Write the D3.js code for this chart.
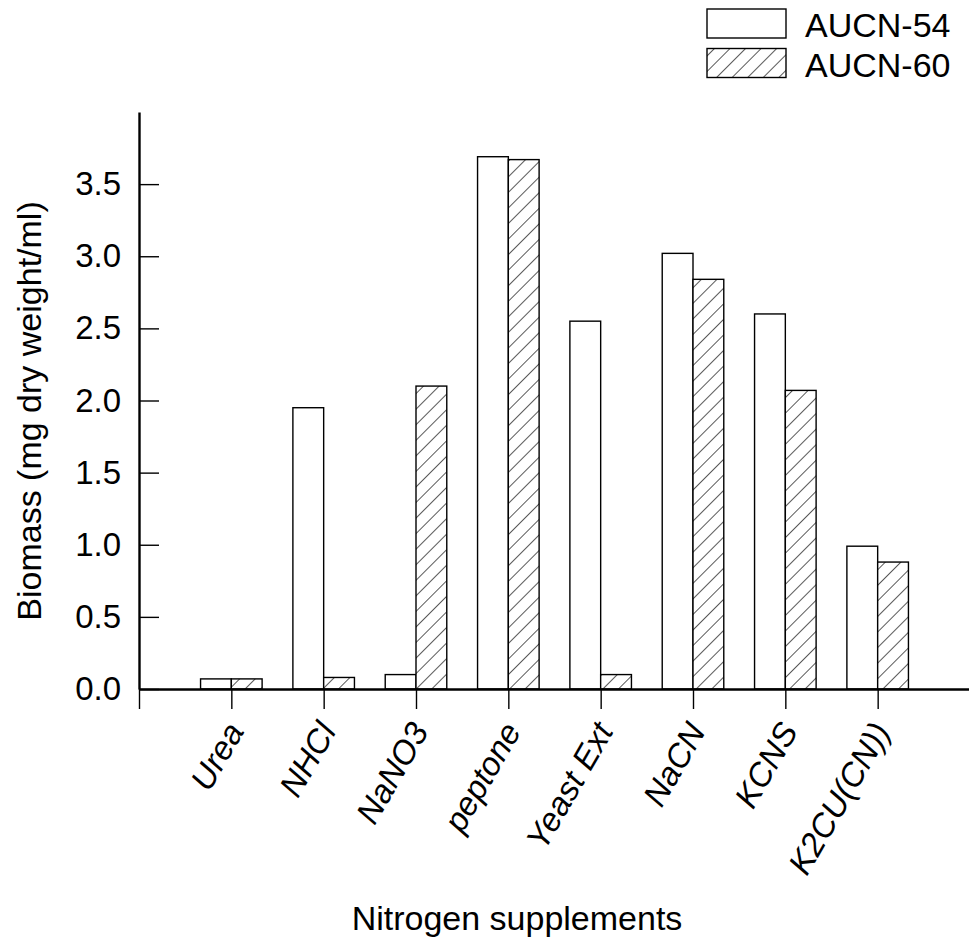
<!DOCTYPE html>
<html>
<head>
<meta charset="utf-8">
<script src="https://cdn.jsdelivr.net/npm/d3@7"></script>
<style>
  html, body { margin: 0; padding: 0; background: #fff; }
  svg { display: block; font-family: "Liberation Sans", Arial, sans-serif; }
</style>
</head>
<body>
<svg id="chart" width="969" height="942"></svg>
<script>
// ---- data ----
const categories = ["Urea", "NHCl", "NaNO3", "peptone", "Yeast Ext", "NaCN", "KCNS", "K2CU(CN))"];
const aucn54 = [0.07, 1.95, 0.10, 3.69, 2.55, 3.02, 2.60, 0.99];
const aucn60 = [0.07, 0.08, 2.10, 3.67, 0.10, 2.84, 2.07, 0.88];
const seriesNames = ["AUCN-54", "AUCN-60"];
const yTicks = [0, 0.5, 1.0, 1.5, 2.0, 2.5, 3.0, 3.5];
const xTitle = "Nitrogen supplements";
const yTitle = "Biomass (mg dry weight/ml)";

const svg = d3.select("#chart");
const FS = 34, TFS = 33;

// hatch pattern
const defs = svg.append("defs");
const pat = defs.append("pattern")
  .attr("id", "hatch").attr("patternUnits", "userSpaceOnUse")
  .attr("width", 11).attr("height", 11)
  .attr("patternTransform", "rotate(45)");
pat.append("rect").attr("width", 11).attr("height", 11).attr("fill", "#fff");
pat.append("line").attr("x1", 0).attr("y1", 0).attr("x2", 0).attr("y2", 11)
  .attr("stroke", "#222").attr("stroke-width", 1.5);

const x = d3.scaleLinear().domain([0, 9]).range([139, 970]);
const y = d3.scaleLinear().domain([0, 4]).range([689, 112]);
const unit = x(1) - x(0);
const bw = unit / 3;

// bars
const rows = categories.map((c, i) => ({ c, i: i + 1, v: [aucn54[i], aucn60[i]] }));
const g = svg.append("g");
rows.forEach(r => {
  r.v.forEach((v, s) => {
    g.append("rect")
      .attr("x", x(r.i) + (s === 0 ? -bw : 0))
      .attr("y", y(v))
      .attr("width", bw)
      .attr("height", y(0) - y(v))
      .attr("fill", s === 0 ? "#fff" : "url(#hatch)")
      .attr("stroke", "#000")
      .attr("stroke-width", 1.4);
  });
});

// x axis
const xAxis = svg.append("g")
  .attr("transform", `translate(0,${y(0)})`)
  .call(d3.axisBottom(x).tickValues(d3.range(0, 9)).tickSizeInner(20).tickSizeOuter(0)
    .tickFormat(i => categories[i - 1] || ""));
xAxis.select(".domain").attr("stroke-width", 2.4);
xAxis.selectAll(".tick line").attr("stroke-width", 1.4);
xAxis.selectAll(".tick text")
  .attr("font-size", TFS).attr("font-style", "italic").attr("fill", "#000")
  .attr("text-anchor", "end")
  .attr("dy", 0).attr("y", 0)
  .attr("transform", "translate(13,42) rotate(-60)");

// y axis
const yAxis = svg.append("g")
  .attr("transform", `translate(${x(0)},0)`)
  .call(d3.axisLeft(y).tickValues(yTicks).tickSizeInner(-20).tickSizeOuter(0)
    .tickPadding(18).tickFormat(d3.format(".1f")));
yAxis.select(".domain").attr("stroke-width", 2.4);
yAxis.selectAll(".tick line").attr("stroke-width", 1.4);
yAxis.selectAll(".tick text").attr("font-size", TFS).attr("fill", "#000");

// axis titles
svg.append("text").attr("x", 517).attr("y", 930)
  .attr("text-anchor", "middle").attr("font-size", FS).text(xTitle);
svg.append("text").attr("transform", "translate(41,411) rotate(-90)")
  .attr("text-anchor", "middle").attr("font-size", FS).text(yTitle);

// legend
const leg = svg.append("g");
seriesNames.forEach((n, s) => {
  const yy = 9 + s * 39.5;
  leg.append("rect").attr("x", 707).attr("y", yy).attr("width", 79).attr("height", 29)
    .attr("fill", s === 0 ? "#fff" : "url(#hatch)").attr("stroke", "#000").attr("stroke-width", 1.4);
  leg.append("text").attr("x", 805).attr("y", yy + 28).attr("font-size", FS).text(n);
});
</script>
</body>
</html>
